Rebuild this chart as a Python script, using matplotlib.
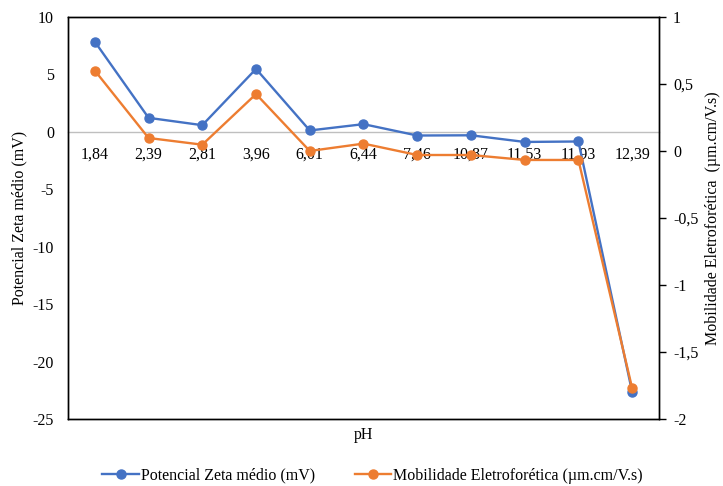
import matplotlib.pyplot as plt
from matplotlib.ticker import FuncFormatter

plt.rcParams['font.family'] = ['Liberation Serif', 'DejaVu Serif']
plt.rcParams['axes.unicode_minus'] = False

BLUE = "#4472C4"
ORANGE = "#ED7D31"
FS = 11.5

ph_labels = ["1,84", "2,39", "2,81", "3,96", "6,01", "6,44", "7,46", "10,87", "11,53", "11,93", "12,39"]
zeta = [7.85, 1.22, 0.58, 5.48, 0.12, 0.67, -0.32, -0.30, -0.88, -0.84, -22.65]
mobility = [0.60, 0.097, 0.047, 0.425, 0.0, 0.055, -0.03, -0.03, -0.067, -0.067, -1.77]

x = list(range(len(ph_labels)))

fig = plt.figure(figsize=(7.23, 4.86), dpi=100)
ax = fig.add_axes([0.094, 0.138, 0.8175, 0.827])
ax2 = ax.twinx()

line1, = ax.plot(x, zeta, color=BLUE, lw=1.7, marker='o', ms=6.5, label="Potencial Zeta médio (mV)")
line2, = ax2.plot(x, mobility, color=ORANGE, lw=1.7, marker='o', ms=6.5,
                  label="Mobilidade Eletroforética (µm.cm/V.s)")

ax.set_xlim(-0.5, len(x) - 0.5)
ax.set_ylim(-25, 10)
ax.set_yticks(range(-25, 11, 5))
ax2.set_ylim(-2, 1)
ax2.set_yticks([-2, -1.5, -1, -0.5, 0, 0.5, 1])

comma = FuncFormatter(lambda v, p: f"{v:g}".replace('.', ','))
ax2.yaxis.set_major_formatter(comma)

for a in (ax, ax2):
    for s in a.spines.values():
        s.set_color('black')
        s.set_linewidth(1.0)

ax.tick_params(axis='y', length=0, labelsize=FS, pad=10)
ax.tick_params(axis='x', bottom=False, labelbottom=False)
ax2.tick_params(axis='y', length=5, width=1.0, labelsize=FS, pad=5)

# category axis sits on the zero line
sec = ax.secondary_xaxis(0, transform=ax.transData)
sec.set_xticks(x, ph_labels)
sec.tick_params(length=0, labelsize=FS, pad=11)
sec.spines['bottom'].set_color('#bfbfbf')
sec.spines['bottom'].set_linewidth(1.0)

ax.set_ylabel("Potencial Zeta médio (mV)", fontsize=FS, labelpad=4)
ax2.set_ylabel("Mobilidade Eletroforética  (µm.cm/V.s)", fontsize=FS, labelpad=5)
ax.set_xlabel("pH", fontsize=FS, labelpad=6)

fig.legend(handles=[line1, line2], loc='lower center', bbox_to_anchor=(0.515, -0.025),
           ncol=2, frameon=False, fontsize=FS, columnspacing=2.5, handlelength=2.3,
           handletextpad=0.1)

fig.savefig("out.png", dpi=100)
